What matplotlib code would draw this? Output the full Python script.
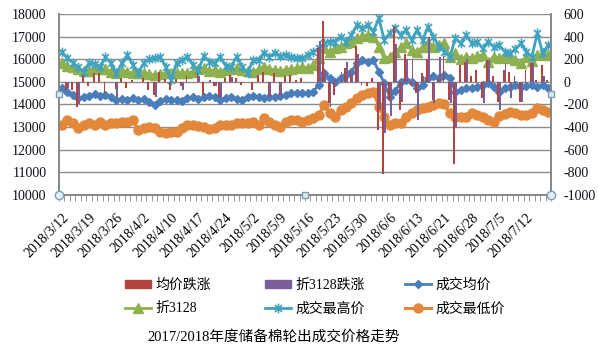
import numpy as np
import matplotlib.pyplot as plt
from matplotlib.path import Path
from matplotlib.patches import Patch
from matplotlib.lines import Line2D

plt.rcParams['font.family'] = ['Liberation Serif', 'Noto Sans CJK SC']
plt.rcParams['axes.unicode_minus'] = False

# trading days of the auction
dates = ['2018/3/12', '2018/3/13', '2018/3/14', '2018/3/15', '2018/3/16',
         '2018/3/19', '2018/3/20', '2018/3/21', '2018/3/22', '2018/3/23',
         '2018/3/26', '2018/3/27', '2018/3/28', '2018/3/29', '2018/3/30',
         '2018/4/2', '2018/4/3', '2018/4/4', '2018/4/8', '2018/4/9',
         '2018/4/10', '2018/4/11', '2018/4/12', '2018/4/13', '2018/4/16',
         '2018/4/17', '2018/4/18', '2018/4/19', '2018/4/20', '2018/4/23',
         '2018/4/24', '2018/4/25', '2018/4/26', '2018/4/27', '2018/4/28',
         '2018/5/2', '2018/5/3', '2018/5/4', '2018/5/7', '2018/5/8',
         '2018/5/9', '2018/5/10', '2018/5/11', '2018/5/14', '2018/5/15',
         '2018/5/16', '2018/5/17', '2018/5/18', '2018/5/21', '2018/5/22',
         '2018/5/23', '2018/5/24', '2018/5/25', '2018/5/28', '2018/5/29',
         '2018/5/30', '2018/5/31', '2018/6/1', '2018/6/4', '2018/6/5',
         '2018/6/6', '2018/6/7', '2018/6/8', '2018/6/11', '2018/6/12',
         '2018/6/13', '2018/6/14', '2018/6/15', '2018/6/19', '2018/6/20',
         '2018/6/21', '2018/6/22', '2018/6/25', '2018/6/26', '2018/6/27',
         '2018/6/28', '2018/6/29', '2018/7/2', '2018/7/3', '2018/7/4',
         '2018/7/5', '2018/7/6', '2018/7/9', '2018/7/10', '2018/7/11',
         '2018/7/12', '2018/7/13', '2018/7/16', '2018/7/17', '2018/7/18']

# 均价跌涨 (right axis)
avg_chg = [0, -70, -70, -220, 60, -40, 75, 75, -100, 0,
           -60, 35, -55, 20, 0, 35, -70, -115, 90, 30,
           -70, 30, -40, 50, 0, 75, -115, 0, -40, -130,
           35, 60, 35, -30, 0, -70, 60, 90, -130, 75,
           -115, 50, 60, 20, 35, 0, 0, 300, 540, -190,
           -115, 0, 120, 100, 320, -30, -40, 35, -425, -820,
           -160, 500, -250, 250, -30, -100, 75, 200, -160, 30,
           230, -160, -730, 150, 180, 50, 105, -145, 195, 50,
           -175, 110, 90, 50, -175, 105, 165, 20, 150, 20]

# 折3128跌涨 (right axis)
p3128_chg = [0, -55, 0, -200, 0, 0, 0, 0, 0, 0,
             -135, 0, 0, 0, 0, 0, 0, -130, 0, 0,
             0, 0, -70, 0, 0, 50, 0, 20, -40, -130,
             0, 45, 0, 0, 0, 0, 0, 0, -130, 0,
             -130, 0, 0, 0, 0, 0, 0, 360, 100, -220,
             20, 90, 180, 80, 250, 0, 0, 0, -250, -450,
             -300, 340, -180, 200, 190, -340, 50, 400, -190, 220,
             0, -190, -410, 0, 200, 0, 0, -190, 195, 0,
             -250, 170, -145, 0, -175, 0, 165, 0, 50, 0]

# 成交均价
avg_price = [14720, 14570, 14420, 14280, 14320, 14380, 14470, 14380, 14420, 14320,
             14200, 14230, 14200, 14280, 14200, 14230, 14130, 13980, 14170, 14230,
             14200, 14200, 14170, 14280, 14320, 14230, 14320, 14380, 14320, 14200,
             14280, 14320, 14230, 14200, 14320, 14380, 14320, 14280, 14320, 14320,
             14380, 14420, 14500, 14500, 14500, 14500, 14570, 14870, 15380, 15160,
             15010, 15160, 15310, 15460, 15830, 15970, 15900, 15970, 15460, 14940,
             14350, 14600, 15010, 15090, 15010, 14720, 14870, 15160, 15240, 15160,
             15310, 15160, 14570, 14650, 14720, 14720, 14790, 14870, 14940, 14790,
             14570, 14720, 14790, 14870, 14790, 14820, 14870, 14790, 14870, 14720]

# 折3128
p3128 = [15830, 15710, 15650, 15560, 15500, 15500, 15610, 15560, 15590, 15460,
         15410, 15500, 15440, 15380, 15410, 15380, 15350, 15310, 15350, 15380,
         15380, 15410, 15410, 15380, 15460, 15560, 15610, 15500, 15530, 15460,
         15530, 15560, 15610, 15530, 15500, 15460, 15560, 15650, 15590, 15530,
         15500, 15530, 15590, 15610, 15680, 15610, 15750, 16050, 16490, 16340,
         16490, 16560, 16710, 16790, 16930, 17040, 17080, 17010, 16560, 16050,
         16120, 16340, 16540, 16710, 16420, 16340, 16540, 16710, 16540, 16640,
         16710, 16120, 16270, 16000, 16120, 16050, 16150, 16200, 15900, 16120,
         16050, 16120, 16050, 15970, 15830, 16120, 15940, 16200, 16270, 16200]

# 成交最高价
high_price = [16340, 16050, 15860, 15650, 15460, 15830, 15800, 15680, 16090, 15830,
              15380, 15830, 16200, 15750, 15410, 15830, 16000, 16050, 16120, 15680,
              15090, 15830, 15970, 16120, 15750, 15530, 16150, 15900, 15830, 16120,
              15710, 15680, 16120, 15680, 15410, 15950, 15970, 16300, 16120, 16300,
              16150, 16200, 16090, 16050, 16050, 16200, 16340, 16490, 16710, 16790,
              16790, 17010, 16790, 17080, 17530, 17380, 17530, 17230, 17820, 16860,
              17160, 17380, 17080, 17300, 16860, 17300, 16860, 17450, 17010, 16560,
              16340, 16120, 16930, 16710, 17080, 16710, 16790, 16490, 16790, 16560,
              16640, 16340, 16270, 16450, 16710, 16340, 16120, 17160, 16270, 16640]

# 成交最低价
low_price = [13090, 13310, 13160, 12940, 13090, 13160, 13090, 13240, 13090, 13160,
             13160, 13240, 13240, 13310, 12870, 12940, 13010, 12940, 12790, 12720,
             12790, 12790, 12940, 13090, 13090, 13050, 13010, 12900, 12940, 13090,
             13090, 13090, 13190, 13160, 13190, 13240, 13090, 13380, 13240, 13090,
             13010, 13240, 13310, 13310, 13240, 13310, 13380, 13530, 13970, 13600,
             13460, 13750, 13900, 14050, 14270, 14420, 14500, 14570, 13900, 13460,
             13090, 13160, 13160, 13460, 13600, 13750, 13830, 13900, 13970, 14050,
             14020, 13600, 13460, 13460, 13430, 13600, 13530, 13460, 13310, 13240,
             13490, 13570, 13680, 13600, 13530, 13530, 13600, 13830, 13750, 13680]

x = np.arange(len(dates))

red = '#B3433F'
purple = '#7A5E9C'
blue = '#4A7EBB'
green = '#8FB04E'
teal = '#3FA2BE'
orange = '#E3873B'
axcol = '#878787'

star = Path([(0, -1), (0, 1), (-0.72, -0.72), (0.72, 0.72), (-0.72, 0.72), (0.72, -0.72)],
            [Path.MOVETO, Path.LINETO, Path.MOVETO, Path.LINETO, Path.MOVETO, Path.LINETO])

fig = plt.figure(figsize=(5.98, 3.52), dpi=100)
ax = fig.add_axes([0.0987, 0.447, 0.8227, 0.5125])
ax2 = ax.twinx()

ax.plot(x, avg_price, color=blue, lw=2, marker='D', ms=4.5, mec=blue)
ax.plot(x, p3128, color=green, lw=2, marker='^', ms=6.5, mec=green)
ax.plot(x, high_price, color=teal, lw=2, marker=star, ms=7, mew=1.2, mec=teal)
ax.plot(x, low_price, color=orange, lw=2.2, marker='o', ms=6.5, mec=orange)

ax2.bar(x - 0.17, avg_chg, width=0.34, color=red)
ax2.bar(x + 0.17, p3128_chg, width=0.34, color=purple)

ax.set_xlim(-0.5, len(dates) - 0.5)
ax.set_ylim(10000, 18000)
ax2.set_ylim(-1000, 600)
ax.set_yticks(np.arange(10000, 18001, 1000))
ax2.set_yticks(np.arange(-1000, 601, 200))

ax.yaxis.grid(True, color='#8C8C8C', lw=1)
ax.set_axisbelow(True)

for a in (ax, ax2):
    a.spines['top'].set_visible(False)
    for s in ('left', 'right', 'bottom'):
        a.spines[s].set_color(axcol)
        a.spines[s].set_linewidth(1.2)

ax.set_xticks(x[::5])
ax.set_xticklabels(dates[::5], rotation=45, ha='right', rotation_mode='anchor')
ax.set_xticks(np.arange(-0.5, len(dates), 1), minor=True)
ax.tick_params(axis='x', which='major', length=0, pad=12, labelsize=10)
ax.tick_params(axis='x', which='minor', length=4, color=axcol, direction='out')
ax.tick_params(axis='y', length=0, pad=9, labelsize=10, labelcolor='#10101A')
ax2.tick_params(axis='y', length=0, pad=9, labelsize=10, labelcolor='#10101A')

# selection handles left on the chart
ax2.plot([0, 1], [0, 0], transform=ax2.transAxes, ls='none', marker='o', ms=6,
         mfc='#DDEFF6', mec='#7F9DB9', clip_on=False, zorder=10)
ax2.plot([0, 1, 0.5], [0.558, 0.558, 0], transform=ax2.transAxes, ls='none', marker='s',
         ms=5, mfc='#DDEFF6', mec='#7F9DB9', clip_on=False, zorder=10)

h_red = Patch(color=red)
h_purple = Patch(color=purple)
h_blue = Line2D([], [], color=blue, lw=2, marker='D', ms=4.5)
h_green = Line2D([], [], color=green, lw=2, marker='^', ms=6.5)
h_teal = Line2D([], [], color=teal, lw=2, marker=star, ms=7, mew=1.2)
h_orange = Line2D([], [], color=orange, lw=2.2, marker='o', ms=6.5)

cols = [([h_red, h_green], ['均价跌涨', '折3128'], 125),
        ([h_purple, h_teal], ['折3128跌涨', '成交最高价'], 265),
        ([h_blue, h_orange], ['成交均价', '成交最低价'], 405)]
for hs, ls, px in cols:
    fig.legend(hs, ls, loc='center left', bbox_to_anchor=(px / 598, 1 - 297 / 352),
               frameon=False, fontsize=10, handlelength=1.9, handletextpad=0.3,
               borderpad=0, borderaxespad=0, labelspacing=0.75, handleheight=0.5)

fig.text(147 / 598, 1 - 337 / 352, '2017/2018年度储备棉轮出成交价格走势',
         fontsize=10.5, ha='left', va='center')

fig.savefig('out.png', dpi=100)
